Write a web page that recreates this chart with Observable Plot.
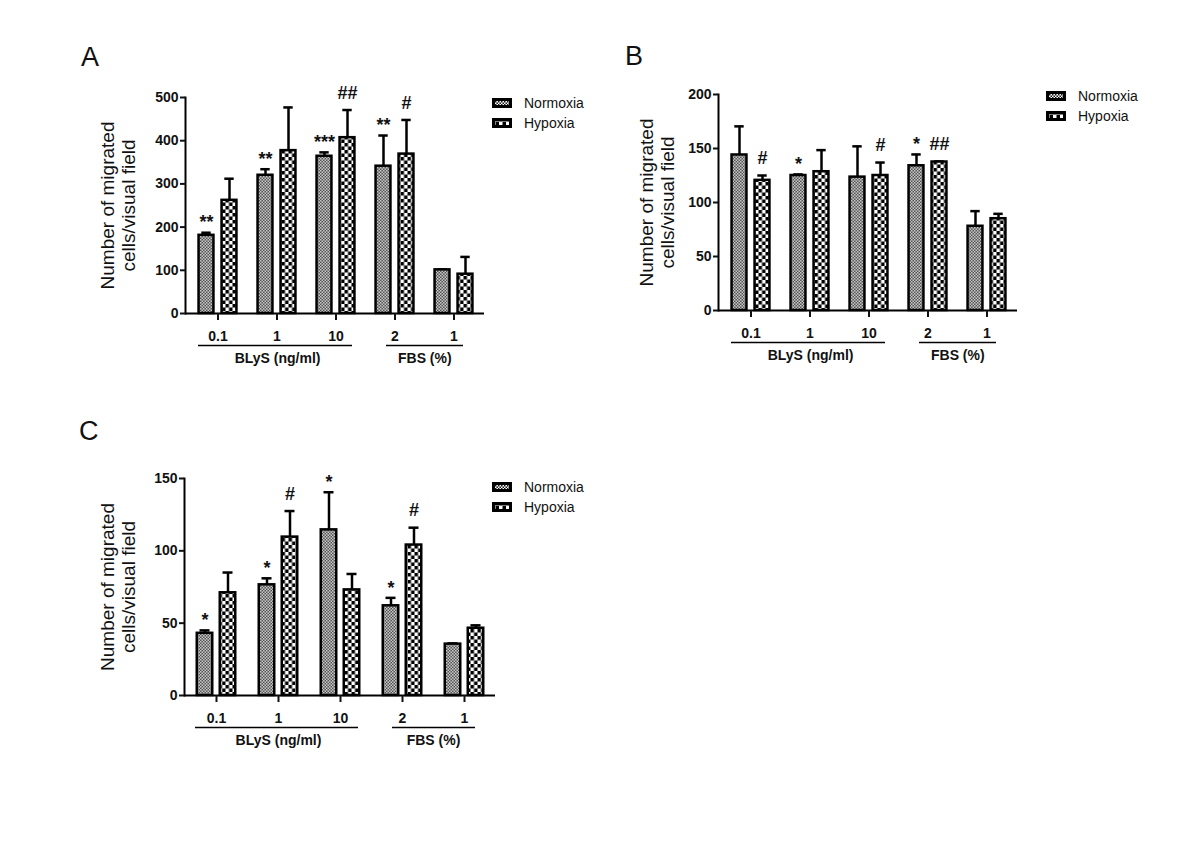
<!DOCTYPE html>
<html>
<head>
<meta charset="utf-8">
<script src="https://cdn.jsdelivr.net/npm/d3@7"></script>
<script src="https://cdn.jsdelivr.net/npm/@observablehq/plot@0.6"></script>
<style>
  body { margin: 0; background: #fff; font-family: "Liberation Sans", Arial, sans-serif; }
  #fig { position: relative; width: 1200px; height: 857px; overflow: hidden; background: #fff; }
  .panel { position: absolute; }
  .letter { position: absolute; font-size: 27px; line-height: 1; color: #111; }
  .legend { position: absolute; font-size: 14px; color: #111; }
  .legend .row { display: flex; align-items: center; height: 20px; }
  .legend svg { margin-right: 12px; display: block; }
</style>
</head>
<body>
<svg width="0" height="0" style="position:absolute">
  <defs>
    <pattern id="pat-normoxia" width="3" height="3" patternUnits="userSpaceOnUse">
      <rect width="3" height="3" fill="#fff"></rect>
      <rect width="1.5" height="1.5" fill="#1a1a1a"></rect>
      <rect x="1.5" y="1.5" width="1.5" height="1.5" fill="#1a1a1a"></rect>
    </pattern>
    <pattern id="pat-hypoxia" width="7" height="7" patternUnits="userSpaceOnUse">
      <rect width="7" height="7" fill="#fff"></rect>
      <rect width="3.5" height="3.5" fill="#000"></rect>
      <rect x="3.5" y="3.5" width="3.5" height="3.5" fill="#000"></rect>
    </pattern>
  </defs>
</svg>
<div id="fig"></div>
<script>
// ---------- shared categories ----------
const groups = ["BLyS 0.1", "BLyS 1", "BLyS 10", "FBS 2", "FBS 1"];
const doseLabels = ["0.1", "1", "10", "2", "1"];
const spanLabels = ["BLyS (ng/ml)", "FBS (%)"];
const spanFrom = ["BLyS 0.1", "FBS 2"];
const spanTo = ["BLyS 10", "FBS 1"];
const seriesNames = ["Normoxia", "Hypoxia"];
const yAxisLabel = "Number of migrated\ncells/visual field";

// ---------- panel A ----------
const aNormoxia = [181, 320, 364, 341, 101];
const aNormoxiaErr = [6, 14, 9, 71, 1];
const aHypoxia = [262, 377, 407, 369, 91];
const aHypoxiaErr = [50, 100, 64, 79, 40];
const aNormoxiaSig = ["**", "**", "***", "**", ""];
const aHypoxiaSig = ["", "", "##", "#", ""];
const aTicks = [0, 100, 200, 300, 400, 500];

// ---------- panel B ----------
const bNormoxia = [144, 125, 123.5, 134, 78];
const bNormoxiaErr = [26.5, 1, 28.5, 10.5, 14];
const bHypoxia = [120.5, 128.5, 125, 137.5, 85];
const bHypoxiaErr = [4.5, 20, 12, 0.5, 4.5];
const bNormoxiaSig = ["", "*", "", "*", ""];
const bHypoxiaSig = ["#", "", "#", "##", ""];
const bTicks = [0, 50, 100, 150, 200];

// ---------- panel C ----------
const cNormoxia = [43, 76.5, 114.5, 62, 35.5];
const cNormoxiaErr = [2, 4.5, 26, 5.5, 0.5];
const cHypoxia = [71, 109.5, 73, 104, 46.5];
const cHypoxiaErr = [14, 18, 11, 12, 2];
const cNormoxiaSig = ["*", "*", "*", "*", ""];
const cHypoxiaSig = ["", "#", "", "#", ""];
const cTicks = [0, 50, 100, 150];

const patterns = ["url(#pat-normoxia)", "url(#pat-hypoxia)"];
const fontFamily = '"Liberation Sans", Arial, sans-serif';
const fig = document.getElementById("fig");

function drawPanel(p) {
  const xInset = 1;
  const bw = (p.width - p.marginRight - p.marginLeft - xInset) / groups.length;
  const barW = 15.5, capW = 10, off = 11.5;
  const series = [
    {mean: p.norm, err: p.normErr, sig: p.normSig, fill: patterns[0], dx: -off},
    {mean: p.hyp, err: p.hypErr, sig: p.hypSig, fill: patterns[1], dx: off}
  ];
  const marks = [];
  for (const s of series) {
    const data = groups.map((g, i) => ({group: g, mean: s.mean[i], top: s.mean[i] + s.err[i], sig: s.sig[i]}));
    marks.push(
      Plot.ruleX(data, {x: "group", y1: "mean", y2: "top", dx: s.dx, stroke: "#000", strokeWidth: 2.5}),
      Plot.tickY(data, {x: "group", y: "top", dx: s.dx, insetLeft: (bw - capW) / 2, insetRight: (bw - capW) / 2, stroke: "#000", strokeWidth: 2.5}),
      Plot.barY(data, {x: "group", y: "mean", dx: s.dx, insetLeft: (bw - barW) / 2, insetRight: (bw - barW) / 2, fill: s.fill, stroke: "#000", strokeWidth: 2.5}),
      Plot.text(data.filter(d => d.sig.includes("*")), {x: "group", y: "top", text: "sig", dx: s.dx, dy: -10, fontSize: 18, fontWeight: "bold", fill: "#111"}),
      Plot.text(data.filter(d => d.sig.includes("#")), {x: "group", y: "top", text: "sig", dx: s.dx, dy: -17, fontSize: 18, fontWeight: "bold", fill: "#111"})
    );
  }
  marks.push(
    Plot.ruleY([0], {stroke: "#000", strokeWidth: 2}),
    Plot.frame({anchor: "left", stroke: "#000", strokeWidth: 2}),
    Plot.axisY({ticks: p.yTicks, tickSize: 5, tickPadding: 2, strokeWidth: 2, label: null, fontSize: 14, fontWeight: "bold"}),
    Plot.axisX({tickSize: 7, tickPadding: 11, strokeWidth: 2, label: null, tickFormat: d => doseLabels[groups.indexOf(d)], fontSize: 14, fontWeight: "bold"}),
    Plot.text([yAxisLabel], {text: d => d, frameAnchor: "left", textAnchor: "middle", lineAnchor: "middle", rotate: -90, dx: p.labelDx, fontSize: 19, fontWeight: "normal", lineHeight: 1.15, fill: "#111"})
  );
  const spanInsetLeft = [10, 21];
  const spanInsetRight = [13, 20];
  spanLabels.forEach((label, i) => {
    const s = {label, from: spanFrom[i], to: spanTo[i], n: groups.indexOf(spanTo[i]) - groups.indexOf(spanFrom[i])};
    marks.push(
      Plot.ruleY([s], {y: () => 0, x1: "from", x2: "to", dy: 32, insetLeft: spanInsetLeft[i], insetRight: spanInsetRight[i], stroke: "#000", strokeWidth: 1.5}),
      Plot.text([s], {x: "from", text: "label", frameAnchor: "bottom", dy: 49, dx: s.n * bw / 2, fontSize: 14, fontWeight: "bold", fill: "#111"})
    );
  });

  const svg = Plot.plot({
    width: p.width, height: p.height,
    marginLeft: p.marginLeft, marginRight: p.marginRight, marginTop: p.marginTop, marginBottom: p.marginBottom,
    style: {fontFamily, fontSize: "14px", color: "#111", background: "transparent", overflow: "visible"},
    x: {type: "band", domain: groups, padding: 0, insetLeft: xInset},
    y: {domain: [0, p.yMax]},
    marks
  });
  const wrap = document.createElement("div");
  wrap.className = "panel";
  wrap.style.left = p.left + "px";
  wrap.style.top = p.top + "px";
  wrap.appendChild(svg);
  fig.appendChild(wrap);

  const letter = document.createElement("div");
  letter.className = "letter";
  letter.textContent = p.letter;
  letter.style.left = p.letterPos[0] + "px";
  letter.style.top = p.letterPos[1] + "px";
  fig.appendChild(letter);

  const lg = document.createElement("div");
  lg.className = "legend";
  lg.style.left = p.legendPos[0] + "px";
  lg.style.top = p.legendPos[1] + "px";
  seriesNames.forEach((name, i) => {
    const row = document.createElement("div");
    row.className = "row";
    row.innerHTML = `<svg width="20" height="10"><rect x="1.5" y="1.5" width="17" height="7" fill="${patterns[i]}" stroke="#000" stroke-width="3"></rect></svg><span>${name}</span>`;
    lg.appendChild(row);
  });
  fig.appendChild(lg);
}

drawPanel({
  letter: "A", letterPos: [81, 44], legendPos: [492, 93],
  left: 60, top: 80, width: 440, height: 300,
  marginLeft: 125, marginRight: 16, marginTop: 17, marginBottom: 67,
  yMax: 500, yTicks: aTicks, labelDx: -68,
  norm: aNormoxia, normErr: aNormoxiaErr, normSig: aNormoxiaSig,
  hyp: aHypoxia, hypErr: aHypoxiaErr, hypSig: aHypoxiaSig
});
drawPanel({
  letter: "B", letterPos: [625, 43], legendPos: [1046, 86],
  left: 600, top: 77, width: 440, height: 300,
  marginLeft: 118, marginRight: 23, marginTop: 17, marginBottom: 67,
  yMax: 200, yTicks: bTicks, labelDx: -62,
  norm: bNormoxia, normErr: bNormoxiaErr, normSig: bNormoxiaSig,
  hyp: bHypoxia, hypErr: bHypoxiaErr, hypSig: bHypoxiaSig
});
drawPanel({
  letter: "C", letterPos: [79, 418], legendPos: [492, 477],
  left: 60, top: 461, width: 450, height: 300,
  marginLeft: 124, marginRight: 15, marginTop: 17, marginBottom: 66,
  yMax: 150, yTicks: cTicks, labelDx: -67,
  norm: cNormoxia, normErr: cNormoxiaErr, normSig: cNormoxiaSig,
  hyp: cHypoxia, hypErr: cHypoxiaErr, hypSig: cHypoxiaSig
});
</script>
</body>
</html>
